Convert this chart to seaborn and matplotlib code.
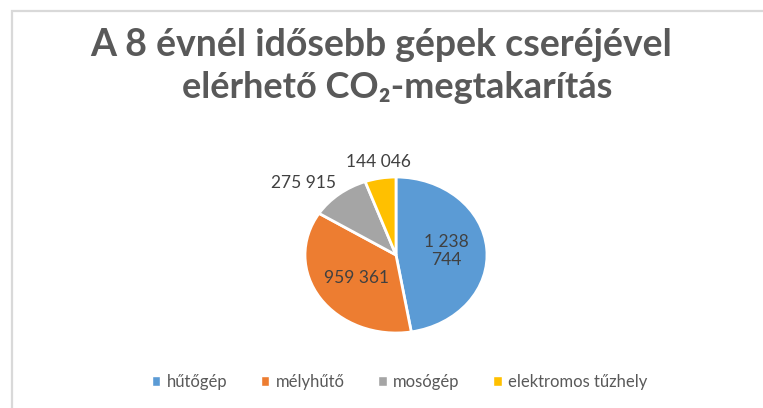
import numpy as np
import matplotlib
matplotlib.use("Agg")
import matplotlib.pyplot as plt
import seaborn as sns
from matplotlib.patches import Rectangle

# adatok
categories = ["hűtőgép", "mélyhűtő", "mosógép", "elektromos tűzhely"]
values = [1238744, 959361, 275915, 144046]
value_labels = ["1 238\n744", "959 361", "275 915", "144 046"]
label_radius = [0.56, 0.52, 1.05, 1.1]
label_inside = [True, True, False, False]

colors = sns.color_palette(["#5B9BD5", "#ED7D31", "#A5A5A5", "#FFC000"])

sns.set_theme(style="white")
plt.rcParams["font.family"] = ["Lato", "DejaVu Sans"]
text_col = "#595959"

fig = plt.figure(figsize=(7.63, 4.08), dpi=100)

# keret
fig.patches.append(Rectangle((12 / 763, -0.05), 1.1, (408 - 11) / 408 + 0.05,
                             transform=fig.transFigure, fill=False,
                             edgecolor="#d9d9d9", linewidth=1.6))

fig.text(0.499, 0.89, "A 8 évnél idősebb gépek cseréjével",
         ha="center", va="center", fontsize=27, fontweight="bold", color=text_col)
fig.text(0.52, 0.785, "elérhető CO₂-megtakarítás",
         ha="center", va="center", fontsize=26, fontweight="bold", color=text_col)

ax = fig.add_axes([305 / 763, 75 / 408, 182 / 763, 156 / 408])
wedges, _ = ax.pie(values, colors=colors, startangle=90, counterclock=False,
                   wedgeprops=dict(edgecolor="white", linewidth=2))
ax.set_aspect("auto")
ax.set_xlim(-1, 1)
ax.set_ylim(-1, 1)

for w, lab, r, inside in zip(wedges, value_labels, label_radius, label_inside):
    ang = np.deg2rad((w.theta1 + w.theta2) / 2)
    x, y = r * np.cos(ang), r * np.sin(ang)
    if inside:
        ha, va = "center", "center"
    else:
        ha = "right" if np.cos(ang) < -0.3 else "center"
        va = "bottom"
    ax.text(x, y, lab, ha=ha, va=va, fontsize=12.5, color="#404040",
            linespacing=1.15)

handles = [Rectangle((0, 0), 1, 1, facecolor=c) for c in colors]
fig.legend(handles, categories, loc="center", bbox_to_anchor=(0.524, 0.064),
           ncol=4, frameon=False, fontsize=12, labelcolor=text_col,
           handlelength=0.5, handleheight=0.5, handletextpad=0.4,
           columnspacing=2.0)

fig.savefig("out.png", dpi=100)
